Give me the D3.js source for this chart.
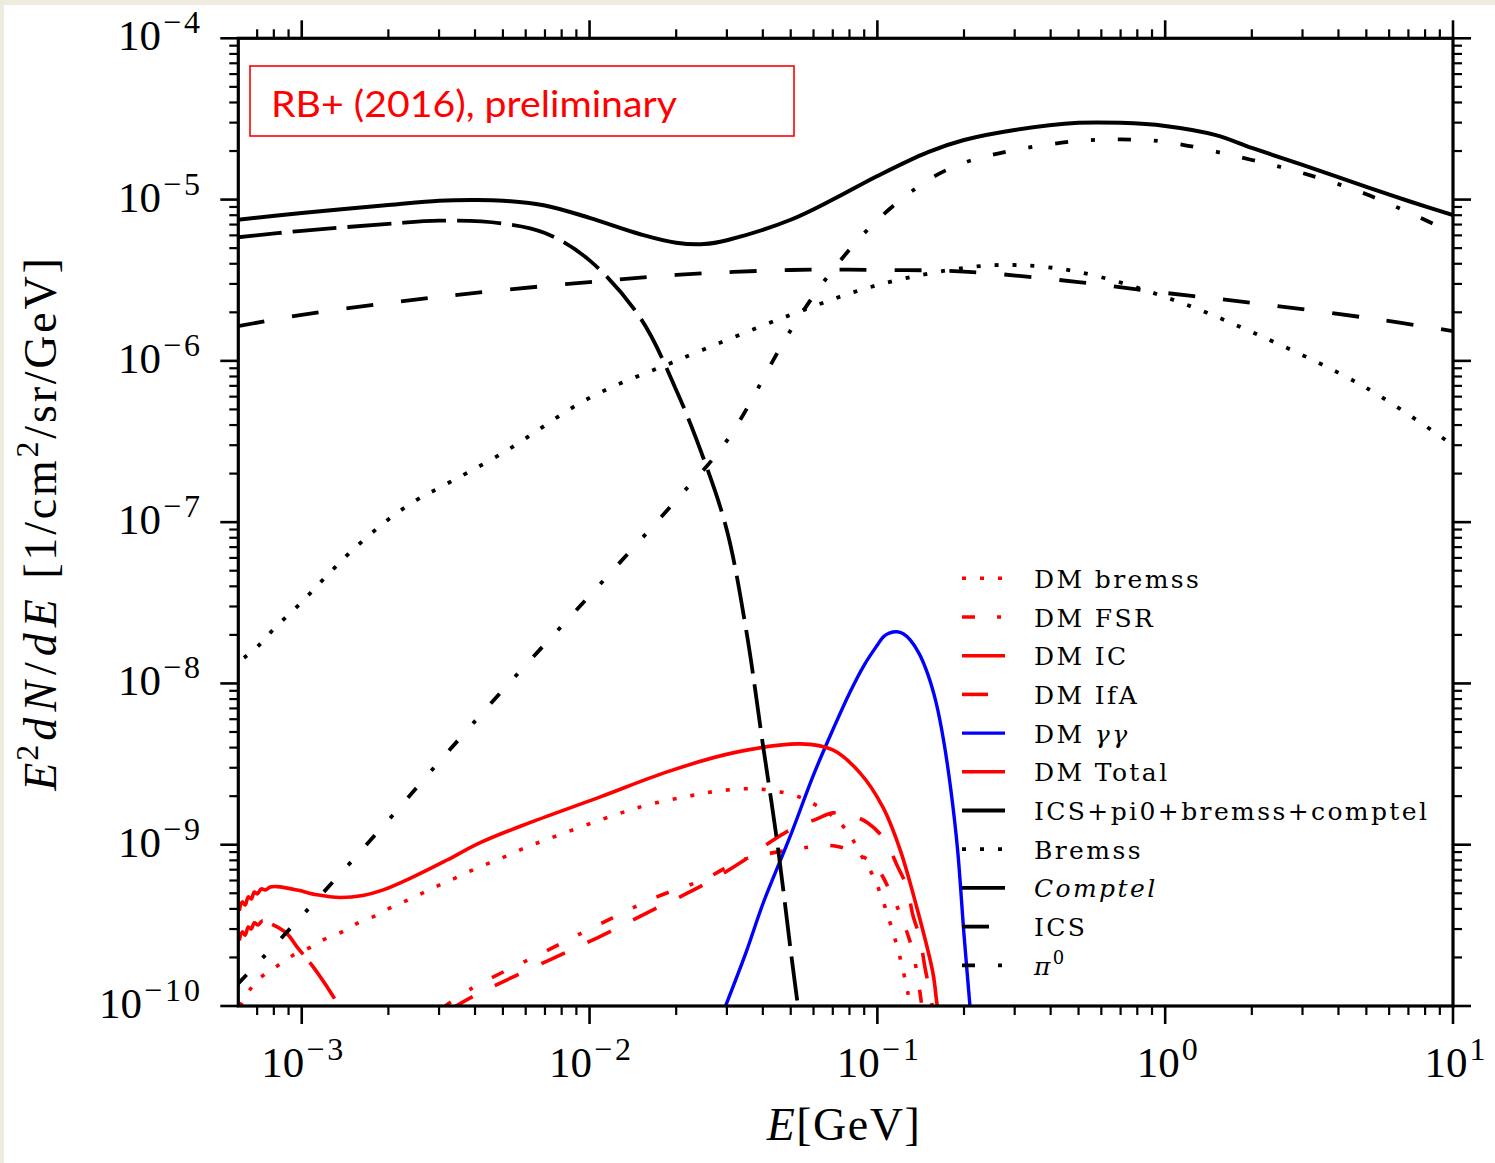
<!DOCTYPE html>
<html>
<head>
<meta charset="utf-8">
<script src="https://cdn.jsdelivr.net/npm/d3@7"></script>
<style>
  html, body { margin: 0; padding: 0; background: #eeecdc; }
  svg { display: block; }
</style>
</head>
<body>
<svg id="chart" width="1495" height="1163"></svg>
<script>
// ---------- spectra: [E in GeV, E^2 dN/dE in 1/cm^2/sr/GeV] ----------
const dmBremss = [
  [6.11e-4, 1.0e-10], [6.62e-4, 1.27e-10], [7.29e-4, 1.53e-10], [8.22e-4, 1.77e-10],
  [9.27e-4, 2.05e-10], [1.062e-3, 2.29e-10], [1.207e-3, 2.61e-10], [1.382e-3, 2.88e-10],
  [1.571e-3, 3.28e-10], [1.8e-3, 3.62e-10], [2.06e-3, 4.11e-10], [2.34e-3, 4.55e-10],
  [2.68e-3, 5.1e-10], [3.07e-3, 5.71e-10], [3.49e-3, 6.32e-10], [4.0e-3, 7.08e-10],
  [4.59e-3, 7.83e-10], [5.25e-3, 8.65e-10], [6.07e-3, 9.7e-10], [6.9e-3, 1.057e-9],
  [1.2e-2, 1.51e-9], [1.6e-2, 1.77e-9], [2.15e-2, 1.98e-9], [2.84e-2, 2.16e-9],
  [3.82e-2, 2.22e-9], [5.09e-2, 2.04e-9], [5.83e-2, 1.84e-9], [6.68e-2, 1.6e-9],
  [7.41e-2, 1.37e-9], [8.15e-2, 1.10e-9], [8.69e-2, 8.9e-10], [9.42e-2, 6.98e-10],
  [0.1004, 5.47e-10], [0.1105, 3.32e-10], [0.1197, 2.02e-10], [0.1276, 1.21e-10],
  [0.131, 9.5e-11]
];
const dmFSR = [
  [3.03e-3, 9.5e-11], [3.91e-3, 1.29e-10], [6.84e-3, 2.13e-10], [1.07e-2, 3.18e-10],
  [1.715e-2, 4.75e-10], [2.5e-2, 6.1e-10], [3.33e-2, 7.95e-10], [4.51e-2, 9.03e-10],
  [5.51e-2, 9.55e-10], [7.12e-2, 9.83e-10], [8.69e-2, 8.65e-10], [9.96e-2, 7.18e-10],
  [0.1122, 4.88e-10], [0.1226, 3.37e-10], [0.1318, 2.29e-10], [0.1382, 1.49e-10],
  [0.1427, 1.0e-10], [0.145, 8e-11]
];
const dmIC = [
  [6.07e-4, 2.55e-10], [6.21e-4, 2.88e-10], [6.36e-4, 2.75e-10], [6.52e-4, 3.09e-10],
  [6.68e-4, 3.0e-10], [6.84e-4, 3.28e-10], [7.06e-4, 3.18e-10], [7.29e-4, 3.37e-10],
  [7.96e-4, 3.18e-10], [8.9e-4, 2.8e-10], [9.64e-4, 2.32e-10], [1.096e-3, 1.75e-10],
  [1.226e-3, 1.31e-10], [1.328e-3, 1.04e-10], [1.4e-3, 8.5e-11]
];
const dmIfA = [
  [3.28e-3, 9.5e-11], [3.91e-3, 1.14e-10], [7.12e-3, 1.9e-10], [1.06e-2, 2.64e-10],
  [1.584e-2, 3.78e-10], [2.52e-2, 5.71e-10], [3.38e-2, 7.85e-10], [4.1e-2, 9.97e-10],
  [4.97e-2, 1.235e-9], [6.17e-2, 1.445e-9], [7.0e-2, 1.575e-9], [8.02e-2, 1.53e-9],
  [9.27e-2, 1.365e-9], [0.1062, 1.07e-9], [0.1169, 7.49e-10], [0.1266, 5.47e-10],
  [0.1328, 3.67e-10], [0.1405, 2.64e-10], [0.1462, 1.75e-10], [0.1522, 1.22e-10],
  [0.1559, 9.5e-11]
];
const dmGammaGamma = [
  [2.9e-2, 9e-11], [3.5e-2, 2.16e-10], [4e-2, 4.29e-10], [5e-2, 1.15e-9], [6e-2, 2.71e-9],
  [7e-2, 5.15e-9], [8e-2, 8.7e-9], [9e-2, 1.3e-8], [0.1, 1.73e-8], [0.105, 1.95e-8],
  [0.11, 2.05e-8], [0.117, 2.09e-8], [0.123, 2.03e-8], [0.13, 1.86e-8], [0.14, 1.52e-8],
  [0.15, 1.13e-8], [0.16, 7.6e-9], [0.17, 4.4e-9], [0.18, 2.19e-9], [0.19, 9.3e-10],
  [0.2, 2.77e-10], [0.212, 8e-11]
];
const dmTotal = [
  [6.07e-4, 3.9e-10], [6.21e-4, 4.42e-10], [6.36e-4, 4.23e-10], [6.52e-4, 4.75e-10],
  [6.68e-4, 4.61e-10], [6.84e-4, 5.09e-10], [7.01e-4, 4.96e-10], [7.23e-4, 5.32e-10],
  [7.47e-4, 5.24e-10], [7.77e-4, 5.47e-10], [8.22e-4, 5.5e-10], [9.64e-4, 5.24e-10],
  [1.13e-3, 4.89e-10], [1.36e-3, 4.71e-10], [1.63e-3, 4.85e-10], [1.92e-3, 5.25e-10],
  [2.44e-3, 6.32e-10], [3.2e-3, 8.04e-10], [4.17e-3, 1.03e-9], [6.2e-3, 1.37e-9],
  [1.09e-2, 1.98e-9], [1.86e-2, 2.83e-9], [3.15e-2, 3.71e-9], [5.4e-2, 4.22e-9],
  [7.0e-2, 3.87e-9], [8.7e-2, 2.79e-9], [0.1045, 1.71e-9], [0.12, 9.3e-10],
  [0.137, 4.1e-10], [0.156, 1.6e-10], [0.161, 1.04e-10], [0.165, 8e-11]
];
const bgTotal = [
  [6.0e-4, 7.5e-6], [1e-3, 8.26e-6], [2e-3, 9.26e-6], [3e-3, 9.85e-6], [4e-3, 9.95e-6],
  [5e-3, 9.85e-6], [7e-3, 9.2e-6], [1e-2, 7.7e-6], [1.5e-2, 6.1e-6], [2e-2, 5.4e-6],
  [2.5e-2, 5.3e-6], [3e-2, 5.6e-6], [5e-2, 7.5e-6], [7e-2, 1.0e-5], [0.1, 1.4e-5],
  [0.15, 1.97e-5], [0.2, 2.34e-5], [0.3, 2.7e-5], [0.5, 2.99e-5], [0.7, 2.99e-5],
  [1, 2.86e-5], [1.5, 2.51e-5], [2, 2.09e-5], [3, 1.64e-5], [5, 1.2e-5], [7, 9.8e-6],
  [10, 8.0e-6]
];
const bgBremss = [
  [6.3e-4, 1.44e-8], [7e-4, 1.68e-8], [8e-4, 2.18e-8], [1e-3, 3.2e-8], [1.2e-3, 4.5e-8],
  [1.5e-3, 6.7e-8], [2e-3, 1.04e-7], [2.5e-3, 1.37e-7], [3e-3, 1.63e-7], [5e-3, 2.69e-7],
  [1e-2, 5.9e-7], [2e-2, 1.0e-6], [5e-2, 1.93e-6], [0.1, 2.95e-6], [0.2, 3.77e-6],
  [0.3, 3.93e-6], [0.5, 3.56e-6], [1, 2.49e-6], [2, 1.51e-6], [5, 6.8e-7], [10, 3.0e-7]
];
const bgComptel = [
  [6.0e-4, 5.84e-6], [1e-3, 6.4e-6], [2e-3, 7.07e-6], [3e-3, 7.4e-6], [5e-3, 7.1e-6],
  [7e-3, 6.2e-6], [1e-2, 4.2e-6], [1.5e-2, 1.85e-6], [2e-2, 6.6e-7], [2.5e-2, 2.43e-7],
  [3e-2, 8.9e-8], [3.5e-2, 2.15e-8], [4e-2, 4.2e-9], [4.5e-2, 1.0e-9], [5e-2, 2.2e-10],
  [5.5e-2, 6e-11]
];
const bgICS = [
  [6.0e-4, 1.64e-6], [1e-3, 1.93e-6], [2e-3, 2.29e-6], [3e-3, 2.49e-6], [5e-3, 2.75e-6],
  [1e-2, 3.08e-6], [2e-2, 3.41e-6], [5e-2, 3.66e-6], [0.1, 3.66e-6], [0.2, 3.58e-6],
  [0.5, 3.08e-6], [1, 2.64e-6], [2, 2.29e-6], [5, 1.85e-6], [10, 1.53e-6]
];
const bgPi0 = [
  [6.0e-4, 1.37e-10], [1e-3, 3.61e-10], [2e-3, 1.42e-9], [3e-3, 3.26e-9], [5e-3, 9.1e-9],
  [1e-2, 3.5e-8], [2e-2, 1.37e-7], [3e-2, 3.2e-7], [5e-2, 1.55e-6], [7e-2, 3.66e-6],
  [0.1, 7.47e-6], [0.15, 1.32e-5], [0.2, 1.69e-5], [0.3, 2.03e-5], [0.5, 2.31e-5],
  [0.7, 2.36e-5], [1, 2.28e-5], [2, 1.76e-5], [3, 1.46e-5], [5, 1.08e-5], [10, 6.2e-6]
];

// axis decades
const xTickExponents = [-3, -2, -1, 0, 1];
const yTickExponents = [-10, -9, -8, -7, -6, -5, -4];

// ---------- layout ----------
const W = 1495, H = 1163;
const P = { left: 238.3, right: 1453, top: 38.3, bottom: 1006 };
const RED = "#ff0000", BLUE = "#0000ff", BLACK = "#000000";

const x = d3.scaleLog().domain([6.02e-4, 10]).range([P.left, P.right]);
const y = d3.scaleLog().domain([1e-10, 1e-4]).range([P.bottom, P.top]);

const svg = d3.select("#chart");
svg.append("rect").attr("x", 4).attr("y", 5).attr("width", W - 4).attr("height", H - 5).attr("fill", "#ffffff");

svg.append("defs").append("clipPath").attr("id", "plot-area")
  .append("rect").attr("x", P.left).attr("y", P.top)
  .attr("width", P.right - P.left).attr("height", P.bottom - P.top);

// ---------- curves ----------
const series = [
  { label: "DM bremss", data: dmBremss, color: RED, dash: "4,14", w: 3.6 },
  { label: "DM FSR", data: dmFSR, color: RED, dash: "13,22,4,22", w: 3.6 },
  { label: "DM IC", data: dmIC, color: RED, dash: "44,10", w: 3.6 },
  { label: "DM IfA", data: dmIfA, color: RED, dash: "26,25", w: 3.6 },
  { label: "DM γγ", data: dmGammaGamma, color: BLUE, dash: null, w: 3.4 },
  { label: "DM Total", data: dmTotal, color: RED, dash: null, w: 3.6 },
  { label: "ICS+pi0+bremss+comptel", data: bgTotal, color: BLACK, dash: null, w: 4 },
  { label: "Bremss", data: bgBremss, color: BLACK, dash: "4,14", w: 3.8 },
  { label: "Comptel", data: bgComptel, color: BLACK, dash: "44,11", w: 3.8 },
  { label: "ICS", data: bgICS, color: BLACK, dash: "27,28", w: 3.8 },
  { label: "π0", data: bgPi0, color: BLACK, dash: "13,23,4,23", w: 3.8 }
];

const line = d3.line()
  .x(d => x(d[0]))
  .y(d => y(d[1]))
  .curve(d3.curveCatmullRom.alpha(0.5));

const curves = svg.append("g").attr("clip-path", "url(#plot-area)");
series.forEach(s => {
  curves.append("path")
    .attr("d", line(s.data))
    .attr("fill", "none")
    .attr("stroke", s.color)
    .attr("stroke-width", s.w)
    .attr("stroke-dasharray", s.dash)
    .attr("stroke-linecap", "butt")
    .attr("stroke-linejoin", "round");
});

// ---------- frame and ticks ----------
const axisG = svg.append("g").attr("stroke", BLACK);
const xTicks = [], yTicks = [];
for (let e = -4; e <= 1; e++) for (let m = 1; m <= 9; m++) {
  const v = m * Math.pow(10, e);
  if (v >= 6.02e-4 && v <= 10.0001) xTicks.push({ v, major: m === 1 });
}
for (let e = -10; e <= -4; e++) for (let m = 1; m <= 9; m++) {
  const v = m * Math.pow(10, e);
  if (v >= 1e-10 && v <= 1.0001e-4) yTicks.push({ v, major: m === 1 });
}
const MAJ = 18, MIN = 9;
xTicks.forEach(t => {
  const px = x(t.v), len = t.major ? MAJ : MIN, sw = t.major ? 2.6 : 2.2;
  axisG.append("line").attr("x1", px).attr("x2", px).attr("y1", P.bottom).attr("y2", P.bottom + len).attr("stroke-width", sw);
  axisG.append("line").attr("x1", px).attr("x2", px).attr("y1", P.top).attr("y2", P.top - len).attr("stroke-width", sw);
});
yTicks.forEach(t => {
  const py = y(t.v), len = t.major ? MAJ : MIN, sw = t.major ? 2.6 : 2.2;
  axisG.append("line").attr("y1", py).attr("y2", py).attr("x1", P.left).attr("x2", P.left - len).attr("stroke-width", sw);
  axisG.append("line").attr("y1", py).attr("y2", py).attr("x1", P.right).attr("x2", P.right + len).attr("stroke-width", sw);
});
svg.append("rect")
  .attr("x", P.left).attr("y", P.top)
  .attr("width", P.right - P.left).attr("height", P.bottom - P.top)
  .attr("fill", "none").attr("stroke", BLACK).attr("stroke-width", 3.2);

// ---------- tick labels (powers of ten) ----------
const serif = "'Liberation Serif', 'Times New Roman', serif";
function powerLabel(sel, exp) {
  sel.append("tspan").attr("font-size", 43).text("10");
  sel.append("tspan").attr("font-size", 32).attr("dy", -17).attr("dx", 2)
    .attr("letter-spacing", exp < 0 ? 3 : 0)
    .text((exp < 0 ? "\u2212" : "") + Math.abs(exp));
}
yTickExponents.forEach(e => {
  const t = svg.append("text")
    .attr("x", 203).attr("y", y(Math.pow(10, e)) + 12)
    .attr("text-anchor", "end").attr("font-family", serif).attr("fill", BLACK);
  powerLabel(t, e);
});
xTickExponents.forEach(e => {
  const t = svg.append("text")
    .attr("x", x(Math.pow(10, e)) + 2).attr("y", 1077)
    .attr("text-anchor", "middle").attr("font-family", serif).attr("fill", BLACK);
  powerLabel(t, e);
});

// ---------- axis titles ----------
const xt = svg.append("text")
  .attr("x", 844).attr("y", 1140).attr("text-anchor", "middle")
  .attr("font-family", serif).attr("font-size", 46).attr("fill", BLACK)
  .attr("letter-spacing", 1.5);
xt.append("tspan").attr("font-style", "italic").text("E");
xt.append("tspan").text("[GeV]");

const yt = svg.append("text")
  .attr("transform", "translate(56,523) rotate(-90)")
  .attr("text-anchor", "middle")
  .attr("font-family", serif).attr("font-size", 46).attr("fill", BLACK);
yt.append("tspan").attr("font-style", "italic").attr("letter-spacing", 6).text("E");
yt.append("tspan").attr("font-size", 32).attr("dy", -18).attr("dx", -4).attr("letter-spacing", 4).text("2");
yt.append("tspan").attr("font-style", "italic").attr("dy", 18).attr("letter-spacing", 6).text("dN");
yt.append("tspan").attr("letter-spacing", 6).text("/");
yt.append("tspan").attr("font-style", "italic").attr("letter-spacing", 6).text("dE");
yt.append("tspan").attr("letter-spacing", 2.8).text(" [1/cm");
yt.append("tspan").attr("font-size", 32).attr("dy", -18).attr("letter-spacing", 2.8).text("2");
yt.append("tspan").attr("dy", 18).attr("letter-spacing", 2.8).text("/sr/GeV]");

// ---------- annotation box ----------
svg.append("rect")
  .attr("x", 250).attr("y", 66).attr("width", 544).attr("height", 70)
  .attr("fill", "none").attr("stroke", RED).attr("stroke-width", 1.6);
svg.append("text")
  .attr("x", 271).attr("y", 117)
  .attr("font-family", "Lato, 'Open Sans', sans-serif").attr("font-size", 37)
  .attr("fill", RED).attr("textLength", 406).attr("lengthAdjust", "spacingAndGlyphs")
  .text("RB+ (2016), preliminary");

// ---------- legend ----------
const legendFont = "'DejaVu Serif', serif";
const leg = svg.append("g");
series.forEach((s, i) => {
  const cy = 578.3 + i * 38.7;
  leg.append("line")
    .attr("x1", 962).attr("x2", 1005).attr("y1", cy).attr("y2", cy)
    .attr("stroke", s.color).attr("stroke-width", s.w)
    .attr("stroke-dasharray", s.dash).attr("stroke-linecap", "butt");
  const t = leg.append("text")
    .attr("x", 1034).attr("y", cy + 9.5)
    .attr("font-family", legendFont).attr("font-size", 25)
    .attr("letter-spacing", 2.4).attr("fill", BLACK);
  if (s.label === "DM γγ") {
    t.append("tspan").text("DM ");
    t.append("tspan").attr("font-style", "italic").text("γγ");
  } else if (s.label === "Comptel") {
    t.append("tspan").attr("font-style", "italic").text("Comptel");
  } else if (s.label === "π0") {
    t.append("tspan").attr("font-style", "italic").text("π");
    t.append("tspan").attr("font-size", 18).attr("dy", -11).text("0");
  } else {
    t.text(s.label);
  }
});
</script>
</body>
</html>
